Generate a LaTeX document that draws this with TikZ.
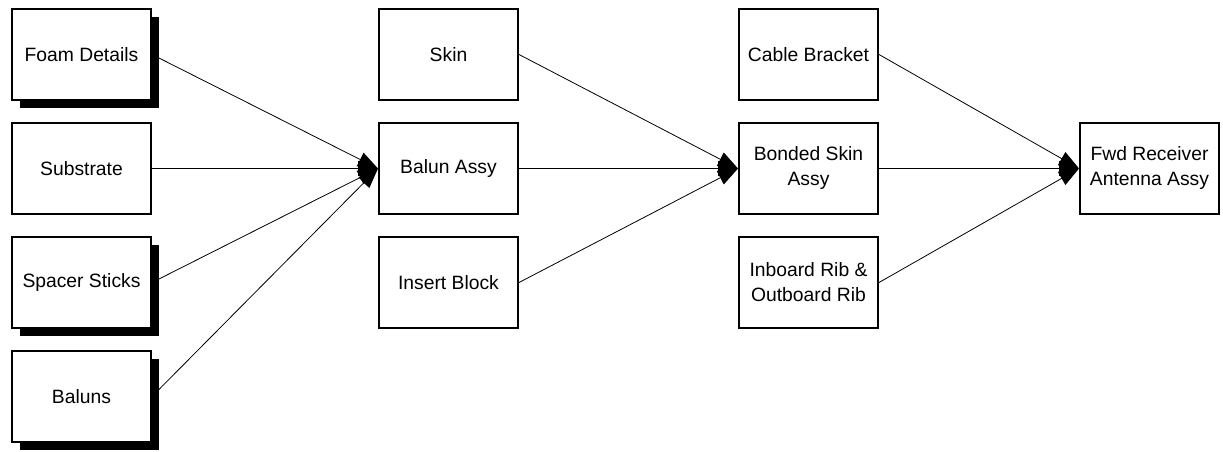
\documentclass[tikz,border=0pt]{standalone}
\usepackage{fontspec}
\setmainfont{Liberation Sans}
\usetikzlibrary{arrows.meta,shadows}
\pgfdeclarelayer{background}
\pgfsetlayers{background,main}
\begin{document}
\begin{tikzpicture}[x=1pt,y=-1pt,
  box/.style={draw=black,line width=2pt,fill=white,minimum width=139pt,minimum height=91pt,
    align=center,inner sep=2pt,font=\fontsize{19.3}{25}\selectfont},
  sbox/.style={box,drop shadow={shadow xshift=7.5pt,shadow yshift=-7.5pt,fill=black,opacity=1}},
  link/.style={line width=0.8pt,-{Triangle[length=20pt,width=15pt]}}]
\useasboundingbox (0,0) rectangle (1223,451);
\node[sbox] (foam)  at (81.5,54.5)  {Foam Details};
\node[box]  (sub)   at (81.5,168.5) {Substrate};
\node[sbox] (spacer) at (81.5,282.5) {Spacer Sticks};
\node[sbox] (baluns) at (81.5,396.5) {Baluns};
\node[box] (skin)   at (448.5,54.5)  {Skin};
\node[box] (balun)  at (448.5,168.5) {Balun Assy};
\node[box] (insert) at (448.5,282.5) {Insert Block};
\node[box] (cable)  at (808.5,54.5)  {Cable Bracket};
\node[box] (bonded) at (808.5,168.5) {Bonded Skin\\Assy};
\node[box] (rib)    at (808.5,282.5) {Inboard Rib \&\\Outboard Rib};
\node[box] (fwd)    at (1149.5,168.5) {Fwd Receiver\\Antenna Assy};
\begin{pgfonlayer}{background}
\draw[link] (foam.east) -- (balun.west);
\draw[link] (sub.east) -- (balun.west);
\draw[link] (spacer.east) -- (balun.west);
\draw[link] (baluns.east) -- (balun.west);
\draw[link] (skin.east) -- (bonded.west);
\draw[link] (balun.east) -- (bonded.west);
\draw[link] (insert.east) -- (bonded.west);
\draw[link] (cable.east) -- (fwd.west);
\draw[link] (bonded.east) -- (fwd.west);
\draw[link] (rib.east) -- (fwd.west);
\end{pgfonlayer}
\end{tikzpicture}
\end{document}
